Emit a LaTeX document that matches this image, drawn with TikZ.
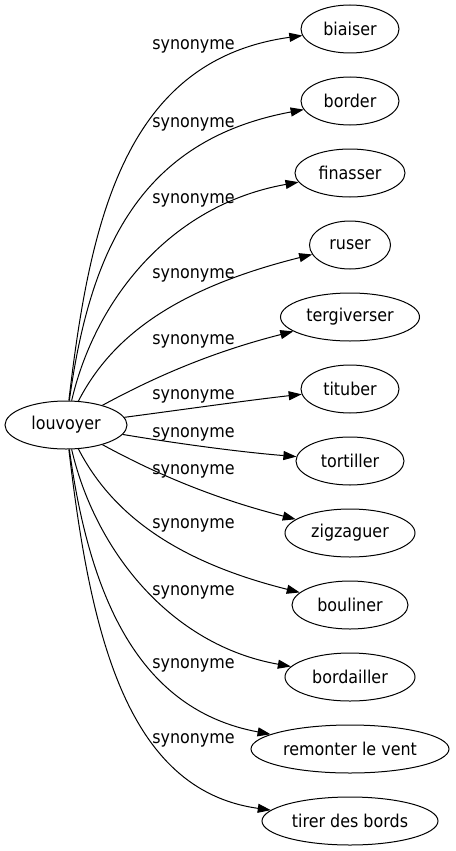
\documentclass[tikz,border=0pt]{standalone}
\usepackage{fontspec}
\setmainfont{DejaVu Sans}[FakeStretch=0.9]
\usetikzlibrary{shapes,arrows.meta}

\begin{document}
\begin{tikzpicture}[x=1pt, y=-1pt, line width=1pt,
    word/.style={ellipse, draw, inner sep=0pt, minimum height=48pt, font=\fontsize{17.7}{21}\selectfont},
    rel/.style={anchor=base, inner sep=0pt, font=\fontsize{17.7}{21}\selectfont},
    syn/.style={-{Triangle[length=13pt,width=9pt]}}]

    \useasboundingbox (0,0) rectangle (455,851);

    \node (louvoyer) [word, minimum width=122pt] at (66,425) {louvoyer};

    \node (biaiser) [word, minimum width=98pt] at (350,29) {biaiser};
    \node (border) [word, minimum width=98pt] at (350,101) {border};
    \node (finasser) [word, minimum width=110pt] at (350,173) {finasser};
    \node (ruser) [word, minimum width=81pt] at (350,245) {ruser};
    \node (tergiverser) [word, minimum width=139pt] at (350,317) {tergiverser};
    \node (tituber) [word, minimum width=98pt] at (350,389) {tituber};
    \node (tortiller) [word, minimum width=108pt] at (350,461) {tortiller};
    \node (zigzaguer) [word, minimum width=130pt] at (350,533) {zigzaguer};
    \node (bouliner) [word, minimum width=116pt] at (350,605) {bouliner};
    \node (bordailler) [word, minimum width=130pt] at (350,677) {bordailler};
    \node (remonter) [word, minimum width=198pt] at (350,749) {remonter le vent};
    \node (tirer) [word, minimum width=176pt] at (350,821) {tirer des bords};

    \node (s1) [rel] at (193.5,50) {synonyme};
    \node (s2) [rel] at (193.5,127) {synonyme};
    \node (s3) [rel] at (193.5,203) {synonyme};
    \node (s4) [rel] at (193.5,278) {synonyme};
    \node (s5) [rel] at (193.5,344) {synonyme};
    \node (s6) [rel] at (193.5,399) {synonyme};
    \node (s7) [rel] at (193.5,437) {synonyme};
    \node (s8) [rel] at (193.5,474) {synonyme};
    \node (s9) [rel] at (193.5,528) {synonyme};
    \node (s10) [rel] at (193.5,595) {synonyme};
    \node (s11) [rel] at (193.5,668) {synonyme};
    \node (s12) [rel] at (193.5,743) {synonyme};

    \draw [syn] (louvoyer) .. controls (90,220) and (125,60) .. (biaiser);
    \draw [syn] (louvoyer) .. controls (90,250) and (140,140) .. (border);
    \draw [syn] (louvoyer) .. controls (95,300) and (170,205) .. (finasser);
    \draw [syn] (louvoyer) .. controls (110,340) and (170,290) .. (ruser);
    \draw [syn] (louvoyer) .. controls (140,385) and (200,355) .. (tergiverser);
    \draw [syn] (louvoyer) .. controls (180,410) and (250,400) .. (tituber);
    \draw [syn] (louvoyer) .. controls (180,444) and (240,452) .. (tortiller);
    \draw [syn] (louvoyer) .. controls (140,465) and (200,495) .. (zigzaguer);
    \draw [syn] (louvoyer) .. controls (110,510) and (170,560) .. (bouliner);
    \draw [syn] (louvoyer) .. controls (95,550) and (170,645) .. (bordailler);
    \draw [syn] (louvoyer) .. controls (90,600) and (140,710) .. (remonter);
    \draw [syn] (louvoyer) .. controls (90,630) and (125,790) .. (tirer);
\end{tikzpicture}
\end{document}
